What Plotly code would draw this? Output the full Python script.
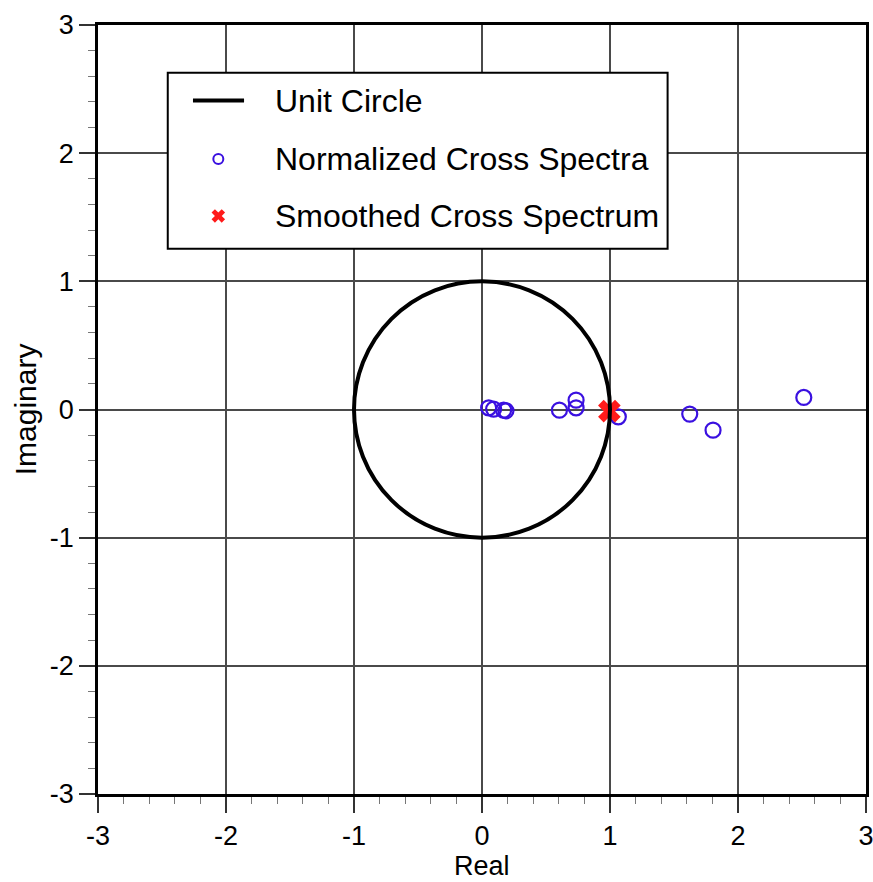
import plotly.graph_objects as go

# Data
norm_re = [0.052, 0.091, 0.169, 0.187, 0.605, 0.735, 0.735, 1.065, 1.623, 1.805, 2.514]
norm_im = [0.013, 0.003, -0.005, -0.010, -0.005, 0.073, 0.013, -0.057, -0.036, -0.161, 0.094]
smooth_re = [0.995]
smooth_im = [-0.013]
tick_vals = [-3, -2, -1, 0, 1, 2, 3]
tick_text = ["-3", "-2", "-1", "0", "1", "2", "3"]
legend_labels = ["Unit Circle", "Normalized Cross Spectra", "Smoothed Cross Spectrum"]

FONT = "Liberation Sans, Arial, Helvetica, sans-serif"
BLUE = "#3a10e0"
RED = "#ff1a1a"

fig = go.Figure()

fig.add_trace(go.Scatter(
    x=norm_re, y=norm_im, mode="markers",
    marker=dict(symbol="circle-open", size=15, color=BLUE, line=dict(width=2.2, color=BLUE)),
    showlegend=False, cliponaxis=False))
fig.add_trace(go.Scatter(
    x=smooth_re, y=smooth_im, mode="markers",
    marker=dict(symbol="x", size=20, color=RED, line=dict(width=0)),
    showlegend=False))

# manual legend (box, symbols, labels)
lx0, lx1, ly0, ly1 = -2.455, 1.45, 1.255, 2.627
row_y = [2.41, 1.955, 1.51]
sym_x = -2.06
text_x = -1.63

shapes = [
    dict(type="circle", xref="x", yref="y", x0=-1, x1=1, y0=-1, y1=1,
         line=dict(color="black", width=4), layer="above"),
    dict(type="rect", xref="x", yref="y", x0=lx0, x1=lx1, y0=ly0, y1=ly1,
         line=dict(color="black", width=2), fillcolor="white", layer="between"),
    dict(type="line", xref="x", yref="y", x0=-2.258, x1=-1.859, y0=row_y[0], y1=row_y[0],
         line=dict(color="black", width=4), layer="above"),
]

fig.add_trace(go.Scatter(
    x=[sym_x], y=[row_y[1]], mode="markers",
    marker=dict(symbol="circle-open", size=10, color=BLUE, line=dict(width=2, color=BLUE)),
    showlegend=False))
fig.add_trace(go.Scatter(
    x=[sym_x], y=[row_y[2]], mode="markers",
    marker=dict(symbol="x", size=12, color=RED, line=dict(width=0)),
    showlegend=False))

annotations = []
for lab, yy in zip(legend_labels, row_y):
    annotations.append(dict(x=text_x, y=yy, xref="x", yref="y", text=lab,
                            showarrow=False, xanchor="left", yanchor="middle",
                            font=dict(family=FONT, size=32, color="black")))
# axis titles
annotations.append(dict(x=-0.094, y=0.5, xref="paper", yref="paper", text="Imaginary",
                        textangle=-90, showarrow=False, xanchor="center", yanchor="middle",
                        font=dict(family=FONT, size=30, color="black")))
annotations.append(dict(x=0.5, y=-0.1144, xref="paper", yref="paper", text="Real",
                        showarrow=False, xanchor="center", yanchor="bottom", borderpad=0,
                        font=dict(family=FONT, size=27, color="black")))

axis_common = dict(
    range=[-3, 3], tickmode="array", tickvals=tick_vals, ticktext=tick_text,
    showgrid=True, gridcolor="#4a4a4a", gridwidth=1.5,
    zeroline=False, showline=True, linecolor="black", linewidth=2.5, mirror=True,
    ticks="outside", ticklen=16, tickwidth=1.5, tickcolor="#333333",
    tickfont=dict(family=FONT, size=27, color="black"),
    ticklabeloverflow="allow",
    minor=dict(dtick=0.2, tick0=0, ticks="outside", ticklen=7, tickwidth=1, tickcolor="#777777", showgrid=False),
    fixedrange=True, automargin=False,
)

fig.update_layout(
    template="none",
    width=873, height=882,
    margin=dict(l=98, r=7, t=25, b=88),
    paper_bgcolor="white", plot_bgcolor="white",
    showlegend=False,
    shapes=shapes, annotations=annotations,
    xaxis=dict(**axis_common),
    yaxis=dict(**axis_common),
)

fig.write_html("out.html")
